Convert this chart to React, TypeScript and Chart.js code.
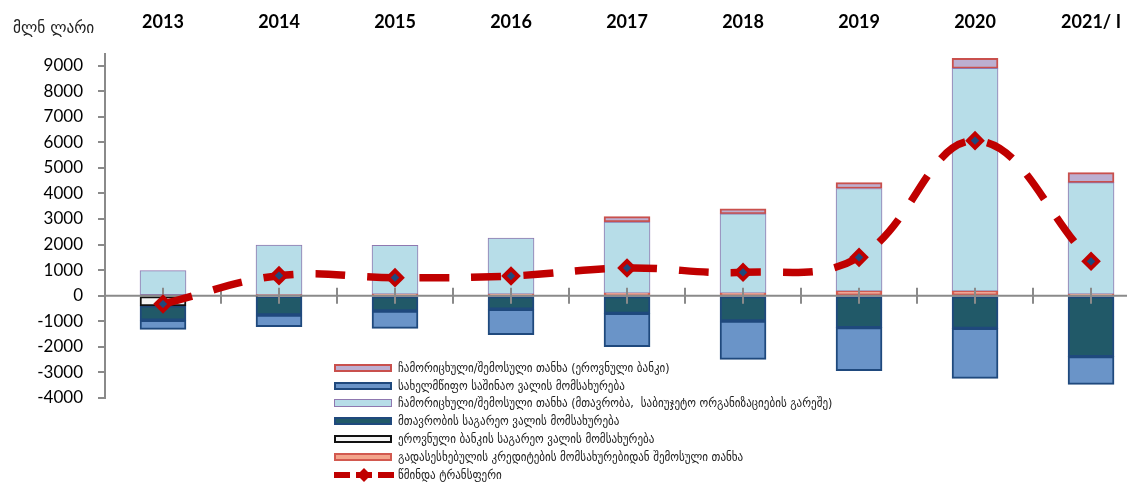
import React, { useEffect, useRef } from 'react';
import { Chart, registerables } from 'chart.js';

Chart.register(...registerables);

// ---- data (values in million GEL) ----
const years = ['2013', '2014', '2015', '2016', '2017', '2018', '2019', '2020', '2021/ I'];
const reloanIncome = [null, 30, 60, 60, 100, 100, 180, 180, 60];
const govTransfers = [980, 1950, 1910, 2190, 2780, 3100, 4010, 8710, 4360];
const nbgTransfers = [null, null, null, null, 210, 200, 230, 390, 390];
const nbgExternalDebt = [-400, -20, null, null, null, null, null, null, null];
const govExternalDebt = [-560, -735, -600, -530, -690, -990, -1250, -1275, -2385];
const domesticDebt = [-355, -457, -675, -993, -1305, -1497, -1680, -1955, -1080];
const netTransfer = [-325, 782, 704, 770, 1083, 915, 1500, 6060, 1345];
const yTickValues = [-4000, -3000, -2000, -1000, 0, 1000, 2000, 3000, 4000, 5000, 6000, 7000, 8000, 9000];

const unitLabel = 'მლნ ლარი';
const lblNbgTransfers = 'ჩამორიცხული/შემოსული თანხა (ეროვნული ბანკი)';
const lblDomesticDebt = 'სახელმწიფო საშინაო ვალის მომსახურება';
const lblGovTransfers = 'ჩამორიცხული/შემოსული თანხა (მთავრობა,  საბიუჯეტო ორგანიზაციების გარეშე)';
const lblGovExternalDebt = 'მთავრობის საგარეო ვალის მომსახურება';
const lblNbgExternalDebt = 'ეროვნული ბანკის საგარეო ვალის მომსახურება';
const lblReloanIncome = 'გადასესხებულის კრედიტების მომსახურებიდან შემოსული თანხა';
const lblNet = 'წმინდა ტრანსფერი';

// ---- styles ----
const S = {
  nbgTransfers: { fill: '#bcafd1', border: '#c9504d', bw: 2 },
  domesticDebt: { fill: '#6a94c8', border: '#1f497d', bw: 2 },
  govTransfers: { fill: '#b7dde8', border: '#8f78b0', bw: 1 },
  govExternalDebt: { fill: '#215968', border: '#1f497d', bw: 2 },
  nbgExternalDebt: { fill: '#f4f4f4', border: '#111111', bw: 2 },
  reloanIncome: { fill: '#f3a48b', border: '#d2594f', bw: 2 },
};
const lineColor = '#c00000';
const pointFill = '#1f497d';

const legendItems = [
  { label: lblNbgTransfers, style: S.nbgTransfers },
  { label: lblDomesticDebt, style: S.domesticDebt },
  { label: lblGovTransfers, style: S.govTransfers },
  { label: lblGovExternalDebt, style: S.govExternalDebt },
  { label: lblNbgExternalDebt, style: S.nbgExternalDebt },
  { label: lblReloanIncome, style: S.reloanIncome },
  { label: lblNet, style: null },
];

const toPoints = (arr: (number | null)[]) => arr.map((v, i) => ({ x: 2 * i + 1, y: v }));

const barDs = (label: string, arr: (number | null)[], st: { fill: string; border: string; bw: number }) => ({
  type: 'bar' as const,
  label,
  data: toPoints(arr),
  backgroundColor: st.fill,
  borderColor: st.border,
  borderWidth: st.bw,
  borderSkipped: false,
  barThickness: 46,
  order: 1,
});

const axisOverlay = {
  id: 'axisOverlay',
  beforeDatasetDraw(chart: any, args: any) {
    if (args.meta.type !== 'line') return;
    const { ctx, chartArea } = chart;
    const x = chart.scales.x;
    const y = chart.scales.y;
    const y0 = y.getPixelForValue(0);
    ctx.save();
    ctx.strokeStyle = '#8a8a8a';
    ctx.lineWidth = 2;
    ctx.beginPath();
    ctx.moveTo(chartArea.left, y0);
    ctx.lineTo(chart.width, y0);
    for (let i = 1; i <= 2 * years.length - 1; i++) {
      const px = Math.round(x.getPixelForValue(i));
      ctx.moveTo(px, y0 - 8);
      ctx.lineTo(px, y0 + 8);
    }
    ctx.stroke();
    ctx.restore();
  },
};

function LegendSwatch({ style }: { style: any }) {
  if (!style) {
    return (
      <svg width={60} height={16} style={{ display: 'block' }}>
        <line x1={0} y1={8} x2={16} y2={8} stroke={lineColor} strokeWidth={6} />
        <line x1={44} y1={8} x2={60} y2={8} stroke={lineColor} strokeWidth={6} />
        <line x1={22} y1={8} x2={38} y2={8} stroke={lineColor} strokeWidth={6} />
        <polygon points="30,1 37,8 30,15 23,8" fill={lineColor} />
      </svg>
    );
  }
  return (
    <div
      style={{
        width: 58,
        height: 8,
        boxSizing: 'border-box',
        background: style.fill,
        border: `${style.bw}px solid ${style.border}`,
      }}
    />
  );
}

export default function App() {
  const canvasRef = useRef<HTMLCanvasElement | null>(null);

  useEffect(() => {
    document.body.style.margin = '0';
    const canvas = canvasRef.current;
    if (!canvas) return;
    const chart = new Chart(canvas, {
      data: {
        datasets: [
          barDs(lblReloanIncome, reloanIncome, S.reloanIncome),
          barDs(lblGovTransfers, govTransfers, S.govTransfers),
          barDs(lblNbgTransfers, nbgTransfers, S.nbgTransfers),
          barDs(lblNbgExternalDebt, nbgExternalDebt, S.nbgExternalDebt),
          barDs(lblGovExternalDebt, govExternalDebt, S.govExternalDebt),
          barDs(lblDomesticDebt, domesticDebt, S.domesticDebt),
          {
            type: 'line' as const,
            label: lblNet,
            data: toPoints(netTransfer),
            borderColor: lineColor,
            borderWidth: 7.5,
            borderDash: [30, 22],
            borderCapStyle: 'butt',
            tension: 0.4,
            fill: false,
            pointStyle: 'rectRot',
            pointRadius: 7,
            pointBorderWidth: 4,
            pointBackgroundColor: pointFill,
            pointBorderColor: lineColor,
            order: 0,
          } as any,
        ],
      },
      options: {
        animation: false,
        responsive: true,
        maintainAspectRatio: false,
        layout: { autoPadding: false, padding: { top: 0, left: 0, right: 0, bottom: 88 } },
        plugins: {
          legend: { display: false },
          tooltip: { enabled: false },
        },
        scales: {
          x: {
            type: 'linear',
            position: 'top',
            offset: false,
            min: 0,
            max: 17.62,
            stacked: true,
            grid: { display: false, offset: false },
            border: { display: false },
            afterBuildTicks: (scale: any) => {
              scale.ticks = years.map((_, i) => ({ value: 2 * i + 1 }));
            },
            afterFit: (scale: any) => {
              scale.height = 54;
            },
            ticks: {
              autoSkip: false,
              maxRotation: 0,
              padding: 0,
              color: '#000',
              font: { family: 'Lato', size: 18, weight: 'bold', lineHeight: '48px' },
              callback: (v: any) => years[(Number(v) - 1) / 2] ?? '',
            },
          },
          y: {
            type: 'linear',
            min: -4000,
            max: 9450,
            stacked: true,
            afterBuildTicks: (scale: any) => {
              scale.ticks = yTickValues.map((v) => ({ value: v }));
            },
            afterFit: (scale: any) => {
              scale.width = 105;
            },
            grid: { drawOnChartArea: false, drawTicks: true, tickLength: 7, color: '#8a8a8a', lineWidth: 2 },
            border: { color: '#8a8a8a', width: 2 },
            ticks: {
              padding: 15,
              color: '#000',
              font: { family: 'Lato', size: 17 },
              callback: (v: any) => String(v),
            },
          },
        },
      } as any,
      plugins: [axisOverlay],
    });
    return () => chart.destroy();
  }, []);

  return (
    <div style={{ position: 'relative', width: 1127, height: 486, background: '#fff', overflow: 'hidden' }}>
      <canvas ref={canvasRef} />
      <div
        style={{
          position: 'absolute',
          left: 13,
          top: 17,
          fontFamily: '"DejaVu Sans Condensed", "DejaVu Sans", sans-serif',
          fontSize: 17,
          color: '#222',
          whiteSpace: 'nowrap',
        }}
      >
        {unitLabel}
      </div>
      <div style={{ position: 'absolute', left: 334, top: 359 }}>
        {legendItems.map((it) => (
          <div key={it.label} style={{ display: 'flex', alignItems: 'center', height: 17.8 }}>
            <div style={{ width: 64, display: 'flex', alignItems: 'center' }}>
              <LegendSwatch style={it.style} />
            </div>
            <span
              style={{
                fontFamily: '"DejaVu Sans Condensed", "DejaVu Sans", sans-serif',
                fontSize: 12.3,
                color: '#222',
                whiteSpace: 'pre',
              }}
            >
              {it.label}
            </span>
          </div>
        ))}
      </div>
    </div>
  );
}
